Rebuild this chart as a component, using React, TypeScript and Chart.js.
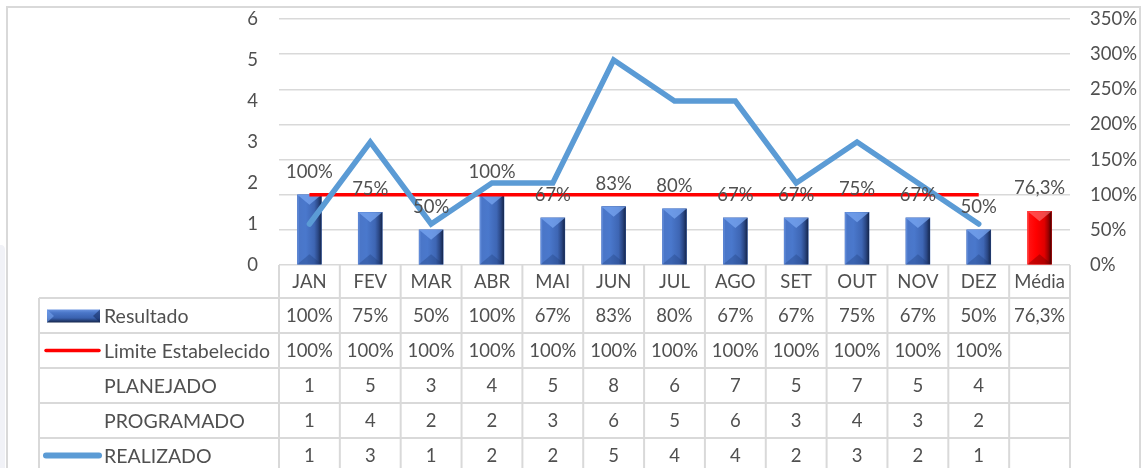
import { useEffect, useRef } from "react";
import { Chart, registerables } from "chart.js";

Chart.register(...registerables);

const categories = ["JAN", "FEV", "MAR", "ABR", "MAI", "JUN", "JUL", "AGO", "SET", "OUT", "NOV", "DEZ", "Média"];
const resultado = [100, 75, 50, 100, 67, 83, 80, 67, 67, 75, 67, 50, 76.3];
const resultadoLabels = ["100%", "75%", "50%", "100%", "67%", "83%", "80%", "67%", "67%", "75%", "67%", "50%", "76,3%"];
const limite = [100, 100, 100, 100, 100, 100, 100, 100, 100, 100, 100, 100, null];
const limiteLabels = ["100%", "100%", "100%", "100%", "100%", "100%", "100%", "100%", "100%", "100%", "100%", "100%", ""];
const planejado = [1, 5, 3, 4, 5, 8, 6, 7, 5, 7, 5, 4];
const programado = [1, 4, 2, 2, 3, 6, 5, 6, 3, 4, 3, 2];
const realizado = [1, 3, 1, 2, 2, 5, 4, 4, 2, 3, 2, 1];
const rowLabels = ["Resultado", "Limite Estabelecido", "PLANEJADO", "PROGRAMADO", "REALIZADO"];

const FONT = "Lato, 'Open Sans', sans-serif";
const TEXT = "#505050";
const GRID = "#d9d9d9";
const BLUE_LINE = "#5b9bd5";
const RED = "#ff0000";

const BLUE_PAL = {
  stops: ["#6a94e0", "#4a76c8", "#4a78cc", "#3e66b4", "#2b4886", "#15264c"],
  top: "rgba(120,165,240,0.75)",
  bottom: "rgba(25,55,115,0.3)",
};
const RED_PAL = {
  stops: ["#ff5050", "#ff1010", "#ff0000", "#e00000", "#a00000", "#400000"],
  top: "rgba(255,120,120,0.6)",
  bottom: "rgba(110,0,0,0.4)",
};

function bevelV(ctx: CanvasRenderingContext2D, x0: number, x1: number, y0: number, y1: number, pal: any) {
  const w = x1 - x0;
  const h = y1 - y0;
  if (h <= 0) return;
  const g = ctx.createLinearGradient(x0, 0, x1, 0);
  const pos = [0, 0.08, 0.35, 0.7, 0.86, 1];
  pal.stops.forEach((c: string, i: number) => g.addColorStop(pos[i], c));
  ctx.fillStyle = g;
  ctx.fillRect(x0, y0, w, h);
  const t = Math.min(10, h / 2);
  const xc = (x0 + x1) / 2;
  ctx.fillStyle = pal.top;
  ctx.beginPath();
  ctx.moveTo(x0, y0);
  ctx.lineTo(x1, y0);
  ctx.lineTo(xc, y0 + t);
  ctx.closePath();
  ctx.fill();
  ctx.fillStyle = pal.bottom;
  ctx.beginPath();
  ctx.moveTo(x0, y1);
  ctx.lineTo(x1, y1);
  ctx.lineTo(xc, y1 - t);
  ctx.closePath();
  ctx.fill();
}

function bevelH(ctx: CanvasRenderingContext2D, x0: number, x1: number, y0: number, y1: number) {
  const h = y1 - y0;
  const g = ctx.createLinearGradient(0, y0, 0, y1);
  g.addColorStop(0, "#6a94e0");
  g.addColorStop(0.25, "#4a76c8");
  g.addColorStop(0.65, "#3a62b0");
  g.addColorStop(1, "#15264c");
  ctx.fillStyle = g;
  ctx.fillRect(x0, y0, x1 - x0, h);
  const yc = (y0 + y1) / 2;
  ctx.fillStyle = "rgba(120,165,240,0.6)";
  ctx.beginPath();
  ctx.moveTo(x0, y0);
  ctx.lineTo(x0, y1);
  ctx.lineTo(x0 + 7, yc);
  ctx.closePath();
  ctx.fill();
  ctx.fillStyle = "rgba(15,35,85,0.5)";
  ctx.beginPath();
  ctx.moveTo(x1, y0);
  ctx.lineTo(x1, y1);
  ctx.lineTo(x1 - 7, yc);
  ctx.closePath();
  ctx.fill();
}

const decorPlugin = {
  id: "decor",
  beforeDraw(chart: any) {
    const ctx = chart.ctx;
    ctx.save();
    ctx.fillStyle = "#f1f2f7";
    ctx.beginPath();
    ctx.moveTo(0, 245);
    ctx.lineTo(2, 245);
    ctx.quadraticCurveTo(5, 246, 5, 250);
    ctx.lineTo(5, chart.height);
    ctx.lineTo(0, chart.height);
    ctx.closePath();
    ctx.fill();
    ctx.strokeStyle = GRID;
    ctx.lineWidth = 2;
    ctx.strokeRect(7, 7, chart.width - 10, chart.height + 20);
    ctx.restore();
  },
  afterDatasetDraw(chart: any, args: any) {
    if (args.index !== 0) return;
    const ctx = chart.ctx;
    const meta = chart.getDatasetMeta(0);
    ctx.save();
    meta.data.forEach((el: any, i: number) => {
      const p = el.getProps(["x", "y", "base", "width"], true);
      const x0 = p.x - p.width / 2;
      const x1 = p.x + p.width / 2;
      bevelV(ctx, x0, x1, p.y, p.base, i === 12 ? RED_PAL : BLUE_PAL);
    });
    ctx.restore();
  },
  afterDatasetsDraw(chart: any) {
    const ctx = chart.ctx;
    const meta = chart.getDatasetMeta(0);
    ctx.save();
    ctx.font = `18.5px ${FONT}`;
    ctx.fillStyle = TEXT;
    ctx.textAlign = "center";
    ctx.textBaseline = "alphabetic";
    meta.data.forEach((el: any, i: number) => {
      const p = el.getProps(["x", "y"], true);
      ctx.fillText(resultadoLabels[i], p.x, p.y - 17);
    });
    ctx.restore();
  },
  afterDraw(chart: any) {
    const ctx = chart.ctx;
    const xs = chart.scales.x;
    const area = chart.chartArea;
    const n = categories.length;
    const step = xs.getPixelForValue(1) - xs.getPixelForValue(0);
    const left = xs.getPixelForValue(0) - step / 2;
    const right = xs.getPixelForValue(n - 1) + step / 2;
    const top = area.bottom;
    const headerH = 33;
    const rowH = 35;
    const tableTop = top + headerH;
    const labelLeft = 39;
    const bottom = chart.height + 5;

    ctx.save();
    ctx.strokeStyle = GRID;
    ctx.lineWidth = 2;
    for (let i = 0; i <= n; i++) {
      const x = left + i * step;
      ctx.beginPath();
      ctx.moveTo(x, top);
      ctx.lineTo(x, bottom);
      ctx.stroke();
    }
    ctx.beginPath();
    ctx.moveTo(labelLeft, tableTop);
    ctx.lineTo(labelLeft, bottom);
    ctx.stroke();
    for (let r = 0; r <= rowLabels.length; r++) {
      const y = tableTop + r * rowH;
      ctx.beginPath();
      ctx.moveTo(labelLeft, y);
      ctx.lineTo(right, y);
      ctx.stroke();
    }

    ctx.font = `18.5px ${FONT}`;
    ctx.fillStyle = TEXT;
    ctx.textBaseline = "middle";
    ctx.textAlign = "center";
    categories.forEach((c, i) => {
      ctx.fillText(c, xs.getPixelForValue(i), top + headerH / 2 + 1);
    });

    const rows: string[][] = [
      resultadoLabels,
      limiteLabels,
      planejado.map(String),
      programado.map(String),
      realizado.map(String),
    ];
    rows.forEach((vals, r) => {
      const yc = tableTop + r * rowH + rowH / 2 + 1;
      ctx.textAlign = "left";
      ctx.fillStyle = TEXT;
      ctx.font = `19.5px ${FONT}`;
      ctx.fillText(rowLabels[r], 104, yc);
      ctx.font = `18.5px ${FONT}`;
      ctx.textAlign = "center";
      vals.forEach((v, i) => {
        ctx.fillText(v, xs.getPixelForValue(i), yc);
      });
      if (r === 0) {
        bevelH(ctx, 47, 100, yc - 7, yc + 6);
      } else if (r === 1) {
        ctx.strokeStyle = RED;
        ctx.lineWidth = 3.5;
        ctx.lineCap = "round";
        ctx.beginPath();
        ctx.moveTo(46, yc - 1);
        ctx.lineTo(99, yc - 1);
        ctx.stroke();
      } else if (r === 4) {
        ctx.strokeStyle = BLUE_LINE;
        ctx.lineWidth = 6;
        ctx.lineCap = "round";
        ctx.beginPath();
        ctx.moveTo(46, yc - 1);
        ctx.lineTo(99, yc - 1);
        ctx.stroke();
      }
    });
    ctx.restore();
  },
};

export default function App() {
  const ref = useRef<HTMLCanvasElement | null>(null);
  useEffect(() => {
    if (!ref.current) return;
    Chart.defaults.font.family = FONT;
    Chart.defaults.font.size = 18;
    Chart.defaults.color = TEXT;
    const chart = new Chart(ref.current, {
      type: "bar",
      data: {
        labels: categories,
        datasets: [
          {
            type: "bar",
            label: "Resultado",
            data: resultado,
            yAxisID: "y1",
            backgroundColor: categories.map((_, i) => (i === 12 ? RED : "#3d67b8")),
            barThickness: 24,
            order: 3,
          },
          {
            type: "line",
            label: "Limite Estabelecido",
            data: limite,
            yAxisID: "y1",
            borderColor: RED,
            borderWidth: 3.5,
            pointRadius: 0,
            tension: 0,
            borderCapStyle: "butt",
            order: 2,
          },
          {
            type: "line",
            label: "REALIZADO",
            data: realizado,
            yAxisID: "y",
            borderColor: BLUE_LINE,
            borderWidth: 5.5,
            pointRadius: 0,
            tension: 0,
            borderCapStyle: "round",
            borderJoinStyle: "miter",
            order: 1,
          },
          {
            type: "line",
            label: "PLANEJADO",
            data: planejado,
            yAxisID: "y",
            hidden: true,
            pointRadius: 0,
          },
          {
            type: "line",
            label: "PROGRAMADO",
            data: programado,
            yAxisID: "y",
            hidden: true,
            pointRadius: 0,
          },
        ] as any,
      },
      options: {
        animation: false,
        responsive: true,
        maintainAspectRatio: false,
        layout: { padding: { left: 0, right: 0, top: 19, bottom: 203 } },
        plugins: { legend: { display: false }, tooltip: { enabled: false } },
        scales: {
          x: { type: "category", display: false, offset: true },
          y: {
            position: "left",
            min: 0,
            max: 6,
            ticks: { stepSize: 1, padding: 21, color: TEXT, font: { size: 18.5, family: FONT } },
            grid: { display: false, drawTicks: false },
            border: { display: false },
            afterFit: (s: any) => {
              s.width = 279;
              s.paddingTop = 0;
              s.paddingBottom = 0;
            },
          },
          y1: {
            position: "right",
            min: 0,
            max: 350,
            ticks: {
              stepSize: 50,
              padding: 20,
              color: TEXT,
              font: { size: 18.5, family: FONT },
              callback: (v: any) => v + "%",
            },
            grid: { color: GRID, lineWidth: 1.5, drawTicks: false },
            border: { display: false },
            afterFit: (s: any) => {
              s.width = 73;
              s.paddingTop = 0;
              s.paddingBottom = 0;
            },
          },
        },
      } as any,
      plugins: [decorPlugin],
    });
    return () => chart.destroy();
  }, []);
  return (
    <div style={{ position: "fixed", left: 0, top: 0, width: 1143, height: 468, background: "#fff" }}>
      <canvas ref={ref} />
    </div>
  );
}
